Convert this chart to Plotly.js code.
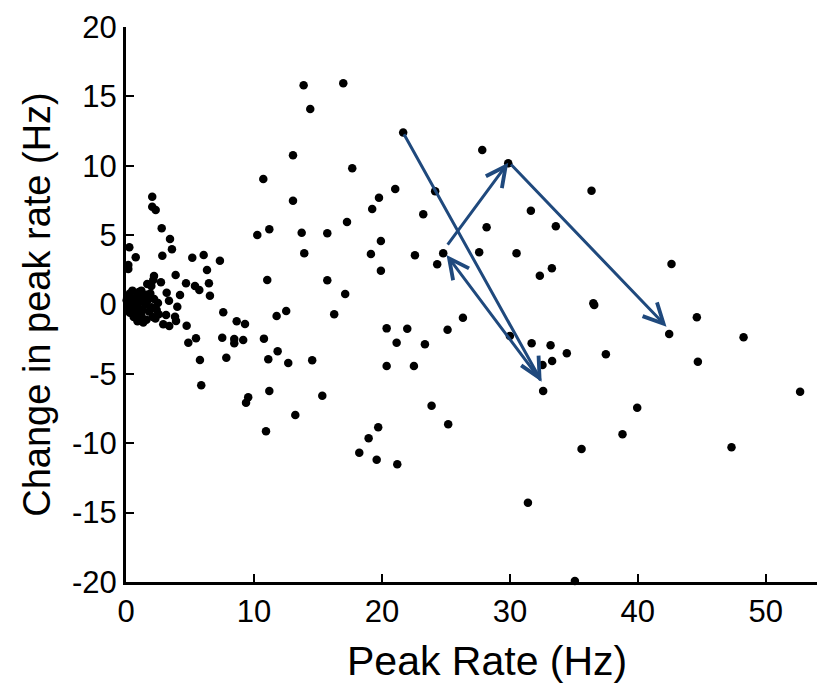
<!DOCTYPE html>
<html>
<head>
<meta charset="utf-8">
<script src="https://cdn.plot.ly/plotly-3.0.1.min.js"></script>
<style>html,body{margin:0;padding:0;background:#fff;}#chart{width:819px;height:683px;}</style>
</head>
<body>
<div id="chart"></div>
<script>
// Peak rate (Hz) of each cell
const peakRate = [
  10.73, 2.05, 2.05, 2.32, 2.79, 3.44, 3.59, 2.84, 0.26, 0.76, 0.18, 0.18, 10.26, 11.20, 5.18, 6.07, 7.34, 6.33, 3.88, 2.19,
  2.13, 1.66, 1.98, 2.73, 4.69, 6.48, 5.39, 5.73, 6.56, 11.04, 4.22, 3.18, 3.36, 4.01, 3.13, 3.83, 3.91, 2.91, 3.38, 4.74,
  7.60, 8.65, 9.30, 5.47, 4.87, 7.52, 8.46, 8.46, 9.16, 10.78, 5.78, 7.84, 11.12, 5.88, 9.55, 9.38, 11.20,
  13.88, 16.98, 14.40, 13.05, 17.68, 21.04, 19.77, 19.24, 13.05, 17.27, 13.73, 15.73, 19.92, 13.93, 19.14, 19.92, 15.73, 17.13,
  11.77, 12.52, 16.27, 21.66, 11.85, 12.68, 14.55, 20.37, 21.15, 20.37, 15.34, 13.23, 10.94, 19.71, 18.96, 18.23, 19.59, 21.20,
  27.84, 29.87, 24.16, 23.23, 31.64, 28.18, 22.58, 24.79, 24.32, 27.60, 30.52, 32.34, 26.33, 21.98, 25.13, 23.36, 30.00, 31.70,
  22.50, 23.88, 25.18, 31.41, 32.60, 36.38, 33.59, 42.63, 33.28, 36.52, 36.59, 44.61, 42.45, 48.26, 33.18, 34.45, 37.50, 33.30,
  32.55, 44.69, 52.68, 39.95, 38.80, 35.60, 47.32, 35.08,
  0.10, 0.20, 0.10, 0.30, 0.40, 0.50, 0.60, 0.70, 0.80, 0.90, 1.00, 1.10, 1.20, 1.30, 1.40, 1.50, 1.60, 1.70, 1.80, 1.90,
  2.00, 2.10, 2.20, 2.40, 2.50, 0.30, 0.60, 0.90, 1.20, 0.50, 0.20, 1.00, 1.60, 0.80, 2.30, 0.05, 0.15, 2.55, 1.35
];
// Change in peak rate (Hz) of each cell
const changeRate = [
  9.05, 7.77, 7.05, 6.81, 5.49, 4.72, 3.98, 3.52, 4.12, 3.40, 2.85, 2.56, 5.01, 5.42, 3.37, 3.57, 3.16, 2.49, 2.13, 2.05,
  1.77, 1.48, 1.33, 1.60, 1.53, 1.53, 1.33, 1.05, 0.63, 1.77, 0.68, 0.85, 0.27, -0.16, -0.76, -0.88, -1.19, -1.43, -1.55, -1.53,
  -0.56, -1.21, -1.41, -2.44, -2.75, -2.39, -2.49, -2.80, -2.56, -2.46, -4.00, -3.83, -3.95, -5.82, -6.69, -7.08, -6.23,
  15.80, 15.94, 14.09, 10.75, 9.82, 8.32, 7.70, 6.88, 7.48, 5.95, 5.17, 5.13, 4.58, 3.69, 3.64, 2.44, 1.74, 0.76,
  -0.83, -0.47, -0.71, 12.40, -3.37, -4.22, -4.02, -1.72, -2.75, -4.43, -6.57, -7.96, -9.14, -8.85, -9.64, -10.68, -11.19, -11.52,
  11.14, 10.18, 8.16, 6.50, 6.76, 5.56, 3.55, 3.69, 2.90, 3.76, 3.69, 2.08, -0.95, -1.74, -1.82, -2.87, -2.27, -2.80,
  -4.43, -7.29, -8.63, -14.28, -6.23, 8.20, 5.64, 2.92, 2.61, 0.09, -0.04, -0.92, -2.13, -2.36, -2.94, -3.52, -3.59, -4.07,
  -4.36, -4.12, -6.28, -7.44, -9.35, -10.41, -10.29, -19.93,
  0.60, 0.20, -0.10, 0.80, -0.30, 0.40, 0.00, -0.60, 0.50, -0.20, 0.90, 0.20, -0.80, -0.40, 0.60, 0.00, -1.10, 0.30, -0.50, 0.80,
  -0.20, -0.90, 0.40, -0.40, 0.10, -0.60, -0.90, -1.20, 1.00, 1.00, 0.50, -0.50, 0.70, -0.90, -1.00, 0.30, -0.40, -0.70, -1.30
];
// Arrow chain (tail -> head)
const arrowTailX = [21.66, 32.48, 25.05, 29.98];
const arrowTailY = [12.38, -5.56, 4.20, 10.20];
const arrowHeadX = [32.48, 25.05, 29.87, 42.24];
const arrowHeadY = [-5.56, 3.57, 10.22, -1.60];

const xTicks = [0, 10, 20, 30, 40, 50];
const yTicks = [-20, -15, -10, -5, 0, 5, 10, 15, 20];
const xTitle = 'Peak Rate (Hz)';
const yTitle = 'Change in peak rate (Hz)';

const FONT = 'Arial, "Liberation Sans", sans-serif';
const ARROW_COLOR = '#1F497D';

const trace = {
  type: 'scatter',
  mode: 'markers',
  x: peakRate,
  y: changeRate,
  cliponaxis: false,
  marker: {color: '#000', size: 8.5, line: {width: 0}},
  hoverinfo: 'x+y'
};

const annotations = arrowTailX.map((_, i) => ({
  x: arrowHeadX[i], y: arrowHeadY[i], xref: 'x', yref: 'y',
  ax: arrowTailX[i], ay: arrowTailY[i], axref: 'x', ayref: 'y',
  text: '', showarrow: true, arrowhead: 5, arrowsize: 1.3, arrowwidth: 3,
  arrowcolor: ARROW_COLOR, standoff: 0, startstandoff: 0
}));
// x-axis title (placed as paper annotation to match the reference's offset position)
annotations.push({
  text: xTitle, xref: 'paper', yref: 'paper', x: 0.522, y: -0.142,
  xanchor: 'center', yanchor: 'middle', showarrow: false,
  font: {family: FONT, size: 41, color: '#000'}
});

const axisCommon = {
  showgrid: false, zeroline: false, showline: true, linecolor: '#000', linewidth: 3,
  ticks: 'inside', ticklen: 8, tickwidth: 2, tickcolor: '#000',
  tickfont: {family: FONT, size: 31, color: '#000'}, mirror: false
};

const layout = {
  width: 819, height: 683,
  margin: {l: 126, r: 2, t: 27, b: 101},
  paper_bgcolor: '#fff', plot_bgcolor: '#fff',
  showlegend: false,
  font: {family: FONT, color: '#000'},
  xaxis: Object.assign({}, axisCommon, {
    range: [0, 54], tickmode: 'array', tickvals: xTicks, ticktext: xTicks.map(String)
  }),
  yaxis: Object.assign({}, axisCommon, {
    range: [-20, 20], tickmode: 'array', tickvals: yTicks, ticktext: yTicks.map(String),
    title: {text: yTitle, font: {family: FONT, size: 38, color: '#000'}, standoff: 10}
  }),
  annotations: annotations
};

Plotly.newPlot('chart', [trace], layout, {displayModeBar: false, staticPlot: true});
</script>
</body>
</html>
